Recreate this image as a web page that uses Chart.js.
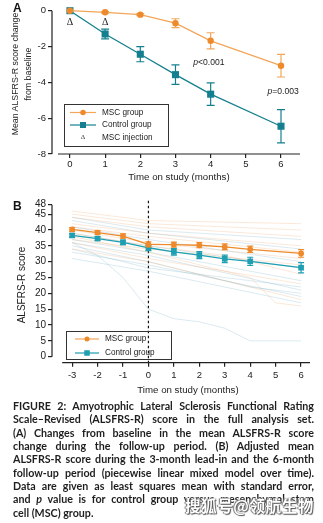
<!DOCTYPE html>
<html>
<head>
<meta charset="utf-8">
<script src="https://cdn.jsdelivr.net/npm/chart.js@4.4.1/dist/chart.umd.min.js"></script>
<style>
  body { margin: 0; background: #fff; width: 323px; height: 523px; overflow: hidden; position: relative;
         font-family: "Liberation Sans", Arial, sans-serif; color: #222; }
  canvas { position: absolute; left: 0; }
  #chartA { top: 0; }
  #chartB { top: 190px; }
  .panel { position: absolute; font: bold 12px "Liberation Sans", Arial, sans-serif; color: #111; }
  .title { position: absolute; white-space: nowrap; text-align: center; color: #222;
           transform: translate(-50%, -50%); }
  .rot { transform: translate(-50%, -50%) rotate(-90deg); }
  #caption { position: absolute; left: 13px; top: 399px; width: 301px;
             font: 700 10.7px Lato, "Open Sans", sans-serif; color: #1e1e1e; }
  #caption div { height: 13.35px; line-height: 13.35px; white-space: nowrap;
                 text-align: justify; text-align-last: justify; }
  #caption div.last { text-align-last: left; }
  #mark { position: absolute; left: 185px; top: 494px; font: 700 15.5px "Noto Sans CJK SC", sans-serif;
          color: #fff; letter-spacing: 0.6px;
          text-shadow: 0 0 1px #444, 1px 1px 1px #555, -1px 0 1px #777, 0 0 3px #fff; }
</style>
</head>
<body>
<canvas id="chartA" width="323" height="185"></canvas>
<canvas id="chartB" width="323" height="205"></canvas>

<div class="panel" style="left:13px; top:1px;">A</div>
<div class="panel" style="left:13px; top:199px;">B</div>

<div class="title rot" style="left:21.5px; top:74px; font-size:8.8px; line-height:13px;">Mean ALSFRS-R score change<br>from baseline</div>
<div class="title" style="left:179px; top:176px; font-size:9.7px;">Time on study (months)</div>
<div class="title rot" style="left:21px; top:285px; font-size:10px;">ALSFRS-R score</div>
<div class="title" style="left:188px; top:389px; font-size:9.7px;">Time on study (months)</div>

<div id="caption">
  <div>FIGURE 2: Amyotrophic Lateral Sclerosis Functional Rating</div>
  <div>Scale–Revised (ALSFRS-R) score in the full analysis set.</div>
  <div>(A) Changes from baseline in the mean ALSFRS-R score</div>
  <div>change during the follow-up period. (B) Adjusted mean</div>
  <div>ALSFRS-R score during the 3-month lead-in and the 6-month</div>
  <div>follow-up period (piecewise linear mixed model over time).</div>
  <div>Data are given as least squares mean with standard error,</div>
  <div>and <i>p</i> value is for control group versus mesenchymal stem</div>
  <div class="last">cell (MSC) group.</div>
</div>
<div id="mark">搜狐号@领航生物</div>

<script>
// panel A: change from baseline
const monthsA = [0, 1, 2, 3, 4, 6];
const mscChange = [0, -0.09, -0.22, -0.7, -1.68, -3.07];
const mscChangeSE = [0, 0.04, 0.06, 0.25, 0.45, 0.63];
const ctrlChange = [0, -1.3, -2.43, -3.57, -4.66, -6.45];
const ctrlChangeSE = [0, 0.27, 0.42, 0.54, 0.63, 0.93];
const injectionMonths = [0, 1];
const xTicksA = [0, 1, 2, 3, 4, 5, 6];
const yTicksA = [0, -2, -4, -6, -8];

// panel B: adjusted mean score
const monthsB = [-3, -2, -1, 0, 1, 2, 3, 4, 6];
const mscScore = [40.2, 39.2, 38.1, 35.5, 35.4, 35.2, 34.7, 33.9, 32.6];
const mscScoreSE = [0.6, 0.6, 0.7, 0.8, 0.8, 0.8, 0.9, 1.0, 1.2];
const ctrlScore = [38.3, 37.3, 36.1, 34.4, 33.1, 32.1, 30.9, 30.1, 28.1];
const ctrlScoreSE = [0.6, 0.6, 0.7, 0.9, 1.0, 1.1, 1.2, 1.3, 1.6];
const xTicksB = [-3, -2, -1, 0, 1, 2, 3, 4, 5, 6];
const yTicksB = [0, 5, 10, 15, 20, 25, 30, 35, 40, 45, 48];

// individual patients, [month, score]
const mscPatients = [
  [[-3, 46], [0, 43], [6, 42]],
  [[-3, 45], [0, 42], [6, 40]],
  [[-3, 44], [0, 41], [6, 38]],
  [[-3, 42], [0, 39], [6, 35]],
  [[-3, 41], [0, 38], [6, 33]],
  [[-3, 40], [0, 36], [6, 31]],
  [[-3, 39], [0, 35], [3, 32], [6, 26]],
  [[-3, 38], [0, 33], [4, 25], [5, 17], [6, 16]],
  [[-3, 37], [0, 34], [6, 29]],
  [[-3, 36], [0, 31], [6, 23]],
  [[-3, 34], [0, 30], [6, 18]]
];
const ctrlPatients = [
  [[-3, 44], [0, 40], [6, 37]],
  [[-3, 43], [0, 39], [6, 34]],
  [[-3, 41], [0, 37], [6, 30]],
  [[-3, 39], [0, 35], [6, 28]],
  [[-3, 37], [0, 33], [6, 24]],
  [[-3, 36], [0, 32], [6, 21]],
  [[-3, 35], [0, 30], [4, 22], [6, 20]],
  [[-3, 33], [0, 29], [6, 19]],
  [[-3, 31], [0, 27], [6, 17]],
  [[-3, 34], [0, 28], [6, 22]],
  [[-3, 36], [-2, 32], [-1, 25], [0, 15], [1, 12], [2, 11], [3, 9], [4, 5], [6, 5]]
];

const ORANGE = '#ee8a2b';
const ORANGE_LINE = '#f2a65a';
const TEAL_A = '#14808f';
const TEAL_B = '#1e9fb2';
const FONT = '"Liberation Sans", Arial, sans-serif';

const pts = (xs, ys) => xs.map((x, i) => ({ x: x, y: ys[i] }));

// error bars, drawn just before each dataset so markers sit on top
const errorBars = {
  id: 'errorBars',
  beforeDatasetDraw(chart, args) {
    const ds = chart.data.datasets[args.index];
    if (!ds.errors) return;
    const ctx = chart.ctx;
    const y = chart.scales.y;
    const w = ds.capWidth || 4;
    ctx.save();
    ctx.strokeStyle = ds.errorColor || ds.borderColor;
    ctx.lineWidth = 1.2;
    args.meta.data.forEach((pt, j) => {
      const e = ds.errors[j];
      if (!e) return;
      const v = ds.data[j].y;
      const top = y.getPixelForValue(v + e);
      const bot = y.getPixelForValue(v - e);
      ctx.beginPath();
      ctx.moveTo(pt.x, top); ctx.lineTo(pt.x, bot);
      ctx.moveTo(pt.x - w, top); ctx.lineTo(pt.x + w, top);
      ctx.moveTo(pt.x - w, bot); ctx.lineTo(pt.x + w, bot);
      ctx.stroke();
    });
    ctx.restore();
  }
};

// prism-style detached axis lines
const offsetAxes = {
  id: 'offsetAxes',
  afterDraw(chart, args, opts) {
    const { ctx, chartArea, scales } = chart;
    ctx.save();
    ctx.strokeStyle = '#222';
    ctx.lineWidth = 1.2;
    ctx.beginPath();
    ctx.moveTo(chartArea.left, scales.y.getPixelForValue(opts.yFrom));
    ctx.lineTo(chartArea.left, scales.y.getPixelForValue(opts.yTo));
    ctx.moveTo(scales.x.getPixelForValue(opts.xFrom), chartArea.bottom);
    ctx.lineTo(chartArea.right, chartArea.bottom);
    ctx.stroke();
    ctx.restore();
  }
};

function drawMarker(ctx, shape, x, y, size, color) {
  ctx.fillStyle = color;
  if (shape === 'rect') {
    ctx.fillRect(x - size / 2, y - size / 2, size, size);
  } else {
    ctx.beginPath();
    ctx.arc(x, y, size / 2, 0, Math.PI * 2);
    ctx.fill();
  }
}

function drawLegend(ctx, box, rows) {
  ctx.save();
  ctx.strokeStyle = '#333';
  ctx.lineWidth = 1;
  ctx.strokeRect(box.x + 0.5, box.y + 0.5, box.w, box.h);
  ctx.font = '8.2px ' + FONT;
  ctx.textBaseline = 'middle';
  rows.forEach(r => {
    if (r.shape === 'delta') {
      ctx.fillStyle = '#333';
      ctx.font = '7px "Liberation Serif", serif';
      ctx.textAlign = 'center';
      ctx.fillText('Δ', box.mark, r.y);
      ctx.font = '8.2px ' + FONT;
    } else {
      ctx.strokeStyle = r.line;
      ctx.lineWidth = 1.2;
      ctx.beginPath();
      ctx.moveTo(box.lineFrom, r.y);
      ctx.lineTo(box.lineTo, r.y);
      ctx.stroke();
      drawMarker(ctx, r.shape, box.mark, r.y, r.size, r.color);
    }
    ctx.fillStyle = '#222';
    ctx.textAlign = 'left';
    ctx.fillText(r.label, box.text, r.y);
  });
  ctx.restore();
}

function italicPText(ctx, rest, cx, cy) {
  ctx.font = 'italic 8.6px ' + FONT;
  const w1 = ctx.measureText('p').width;
  ctx.font = '8.6px ' + FONT;
  const w2 = ctx.measureText(rest).width;
  const x0 = cx - (w1 + w2) / 2;
  ctx.textAlign = 'left';
  ctx.textBaseline = 'middle';
  ctx.font = 'italic 8.6px ' + FONT;
  ctx.fillText('p', x0, cy);
  ctx.font = '8.6px ' + FONT;
  ctx.fillText(rest, x0 + w1, cy);
}

const extrasA = {
  id: 'extrasA',
  afterDatasetsDraw(chart) {
    const { ctx, scales: { x, y } } = chart;
    ctx.save();
    ctx.fillStyle = '#222';
    ctx.font = '10px "Liberation Serif", serif';
    ctx.textAlign = 'center';
    ctx.textBaseline = 'middle';
    injectionMonths.forEach(m => ctx.fillText('Δ', x.getPixelForValue(m), y.getPixelForValue(-0.64)));
    italicPText(ctx, '<0.001', x.getPixelForValue(3.95), y.getPixelForValue(-2.88));
    italicPText(ctx, '=0.003', x.getPixelForValue(6.06), y.getPixelForValue(-4.5));
    ctx.restore();
    drawLegend(ctx, { x: 64, y: 104, w: 104, h: 42, lineFrom: 70, lineTo: 96, mark: 83, text: 102 }, [
      { label: 'MSC group', line: ORANGE_LINE, color: ORANGE, shape: 'circle', size: 5.5, y: 112.5 },
      { label: 'Control group', line: TEAL_A, color: TEAL_A, shape: 'rect', size: 6, y: 125 },
      { label: 'MSC injection', shape: 'delta', y: 137.5 }
    ]);
  }
};

const extrasB = {
  id: 'extrasB',
  beforeDatasetsDraw(chart) {
    const { ctx, chartArea, scales: { x } } = chart;
    const px = x.getPixelForValue(0);
    ctx.save();
    ctx.strokeStyle = '#111';
    ctx.lineWidth = 1.2;
    ctx.setLineDash([2.5, 2.5]);
    ctx.beginPath();
    ctx.moveTo(px, chartArea.top - 4);
    ctx.lineTo(px, chartArea.bottom);
    ctx.stroke();
    ctx.restore();
  },
  afterDatasetsDraw(chart) {
    drawLegend(chart.ctx, { x: 66, y: 141, w: 105, h: 28, lineFrom: 75, lineTo: 99, mark: 87, text: 105 }, [
      { label: 'MSC group', line: ORANGE_LINE, color: ORANGE, shape: 'circle', size: 5, y: 149 },
      { label: 'Control group', line: TEAL_B, color: TEAL_B, shape: 'rect', size: 5.5, y: 163 }
    ]);
  }
};

function axisOpts(min, max, tickList, fit, tickPad, fontSize) {
  return {
    type: 'linear',
    min: min,
    max: max,
    afterBuildTicks: s => { s.ticks = tickList.map(v => ({ value: v })); },
    afterFit: fit,
    border: { display: false },
    grid: { drawOnChartArea: false, drawTicks: true, tickLength: 4, color: '#222', lineWidth: 1.2 },
    ticks: { autoSkip: false, padding: tickPad, color: '#222', maxRotation: 0,
             font: { family: FONT, size: fontSize }, callback: v => String(v) }
  };
}

new Chart(document.getElementById('chartA'), {
  type: 'line',
  data: {
    datasets: [
      {
        label: 'MSC group',
        data: pts(monthsA, mscChange),
        errors: mscChangeSE,
        errorColor: ORANGE_LINE,
        capWidth: 4,
        borderColor: ORANGE_LINE,
        borderWidth: 1.3,
        pointStyle: 'circle',
        pointRadius: 3.2,
        pointBackgroundColor: ORANGE,
        pointBorderColor: ORANGE,
        pointBorderWidth: 0,
        clip: false
      },
      {
        label: 'Control group',
        data: pts(monthsA, ctrlChange),
        errors: ctrlChangeSE,
        capWidth: 4,
        borderColor: TEAL_A,
        borderWidth: 1.3,
        pointStyle: 'rect',
        pointRadius: 5,
        pointBackgroundColor: TEAL_A,
        pointBorderColor: TEAL_A,
        pointBorderWidth: 0,
        clip: false
      }
    ]
  },
  options: {
    responsive: false,
    animation: false,
    devicePixelRatio: 1,
    layout: { padding: { top: 10.7, right: 23, left: 0, bottom: 0 } },
    scales: {
      x: axisOpts(-0.51, 6.54, xTicksA, s => { s.height = 31; }, 1, 9.5),
      y: axisOpts(-8, 0, yTicksA, s => { s.width = 52; }, 2, 9.5)
    },
    plugins: {
      legend: { display: false },
      tooltip: { enabled: false },
      offsetAxes: { yFrom: 0, yTo: -8, xFrom: -0.34 }
    }
  },
  plugins: [errorBars, offsetAxes, extrasA]
});

// faint per-patient trajectories behind the group means
const patientSets = [];
mscPatients.forEach(p => patientSets.push({
  data: p.map(d => ({ x: d[0], y: d[1] })),
  borderColor: 'rgba(238,150,80,0.22)', borderWidth: 1, pointRadius: 0
}));
ctrlPatients.forEach(p => patientSets.push({
  data: p.map(d => ({ x: d[0], y: d[1] })),
  borderColor: 'rgba(90,160,185,0.22)', borderWidth: 1, pointRadius: 0
}));

new Chart(document.getElementById('chartB'), {
  type: 'line',
  data: {
    datasets: [
      {
        label: 'MSC group',
        data: pts(monthsB, mscScore),
        errors: mscScoreSE,
        capWidth: 3,
        borderColor: ORANGE,
        borderWidth: 1.3,
        pointStyle: 'circle',
        pointRadius: 2.9,
        pointBackgroundColor: ORANGE,
        pointBorderWidth: 0,
        clip: false
      },
      {
        label: 'Control group',
        data: pts(monthsB, ctrlScore),
        errors: ctrlScoreSE,
        capWidth: 3,
        borderColor: TEAL_B,
        borderWidth: 1.3,
        pointStyle: 'rect',
        pointRadius: 4,
        pointBackgroundColor: TEAL_B,
        pointBorderWidth: 0,
        clip: false
      }
    ].concat(patientSets)
  },
  options: {
    responsive: false,
    animation: false,
    devicePixelRatio: 1,
    layout: { padding: { top: 14.7, right: 13, left: 0, bottom: 0 } },
    scales: {
      x: axisOpts(-3.79, 6.35, xTicksB, s => { s.height = 32.3; }, 3, 9.5),
      y: axisOpts(-1.9, 48, yTicksB, s => { s.width = 52; }, 2, 10)
    },
    plugins: {
      legend: { display: false },
      tooltip: { enabled: false },
      offsetAxes: { yFrom: 48, yTo: 0, xFrom: -3.39 }
    }
  },
  plugins: [errorBars, offsetAxes, extrasB]
});
</script>
</body>
</html>
